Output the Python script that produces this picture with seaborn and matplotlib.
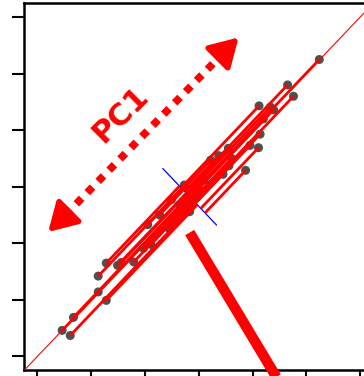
import numpy as np
import matplotlib
matplotlib.use("Agg")
import matplotlib.pyplot as plt
import seaborn as sns
from matplotlib.collections import LineCollection

# Observations (two correlated variables)
x_vals = [5.24, 4.65, 4.76, 4.12, 4.33, 4.39, 4.20, 4.14, 4.11, 3.95, 3.55, 3.37,
          3.61, 3.22, 3.87, 3.56, 3.45,
          1.28, 1.49, 1.56, 1.79, 1.13, 1.13, 1.28, 0.67, 0.46, 0.61, 2.05, 2.11,
          1.97, 2.45,
          2.83, 2.49, 2.73, 3.01, 2.64, 2.27, 3.10]
y_vals = [5.25, 4.80, 4.60, 4.43, 4.41, 4.36, 4.20, 3.93, 3.69, 3.73, 3.68, 3.55,
          3.50, 3.47, 3.29, 3.37, 3.22,
          1.65, 1.61, 1.66, 1.67, 1.42, 1.14, 0.99, 0.69, 0.46, 0.37, 2.33, 1.98,
          1.91, 2.26,
          2.56, 2.77, 3.03, 2.95, 2.68, 2.50, 3.12]
tick_vals = [0, 1, 2, 3, 4, 5, 6]

sns.set_style("white")
fig = plt.figure(figsize=(3.64, 3.76), dpi=100)
ax = fig.add_axes([0.0673, 0.016, 0.9577, 0.9747])

pts = np.column_stack([x_vals, y_vals])
mean = pts.mean(axis=0)
u2 = np.array([1.0, -1.0]) / np.sqrt(2)

# points
sns.scatterplot(x=x_vals, y=y_vals, ax=ax, color="#505050", s=42,
                edgecolor="none", zorder=2)

# PC1 axis (identity line)
lim = (-0.24, 6.24)
ax.plot(lim, lim, color="red", lw=0.8, zorder=3)

# PC2 axis through the mean
t = np.array([-0.5, 0.5])
ax.plot(mean[0] + t, mean[1] - t, color="blue", lw=0.9, zorder=3)

# residuals along PC1 to the PC2 axis
proj = mean + np.outer((pts - mean) @ u2, u2)
segs = np.stack([pts, proj], axis=1)
ax.add_collection(LineCollection(segs, colors="red", linewidths=2.0, zorder=4))

# thick slash below the cloud
ax.plot([2.83, 4.52], [2.19, -0.49], color="red", lw=7.5,
        solid_capstyle="butt", clip_on=False, zorder=6)

# PC1 dotted double arrow
ax.plot([0.52, 3.42], [2.50, 5.33], color="red", lw=5.5,
        linestyle=(0, (1, 1.05)), dash_capstyle="butt", zorder=6)
for tip, base in [((0.20, 2.20), (0.55, 2.53)), ((3.74, 5.64), (3.38, 5.30))]:
    ax.annotate("", xy=tip, xytext=base,
                arrowprops=dict(arrowstyle="-|>,head_length=0.85,head_width=0.5",
                                color="red", lw=4, mutation_scale=20,
                                shrinkA=0, shrinkB=0),
                zorder=6)
ax.text(1.54, 4.27, "PC1", color="red", fontsize=22, fontweight="bold",
        rotation=45, ha="center", va="center", rotation_mode="anchor", zorder=6)

ax.set_xlim(lim)
ax.set_ylim(lim)
ax.set_xticks(tick_vals)
ax.set_yticks(tick_vals)
ax.set_xticklabels([])
ax.set_yticklabels([])
ax.tick_params(direction="out", length=8.6, width=1.5, color="black",
               bottom=True, left=True, top=False, right=False)
for side in ["left", "bottom", "top"]:
    ax.spines[side].set_visible(True)
    ax.spines[side].set_color("black")
    ax.spines[side].set_linewidth(1.8)
ax.spines["right"].set_visible(False)
ax.set_xlabel("")
ax.set_ylabel("")

fig.savefig("out.png", dpi=100)
